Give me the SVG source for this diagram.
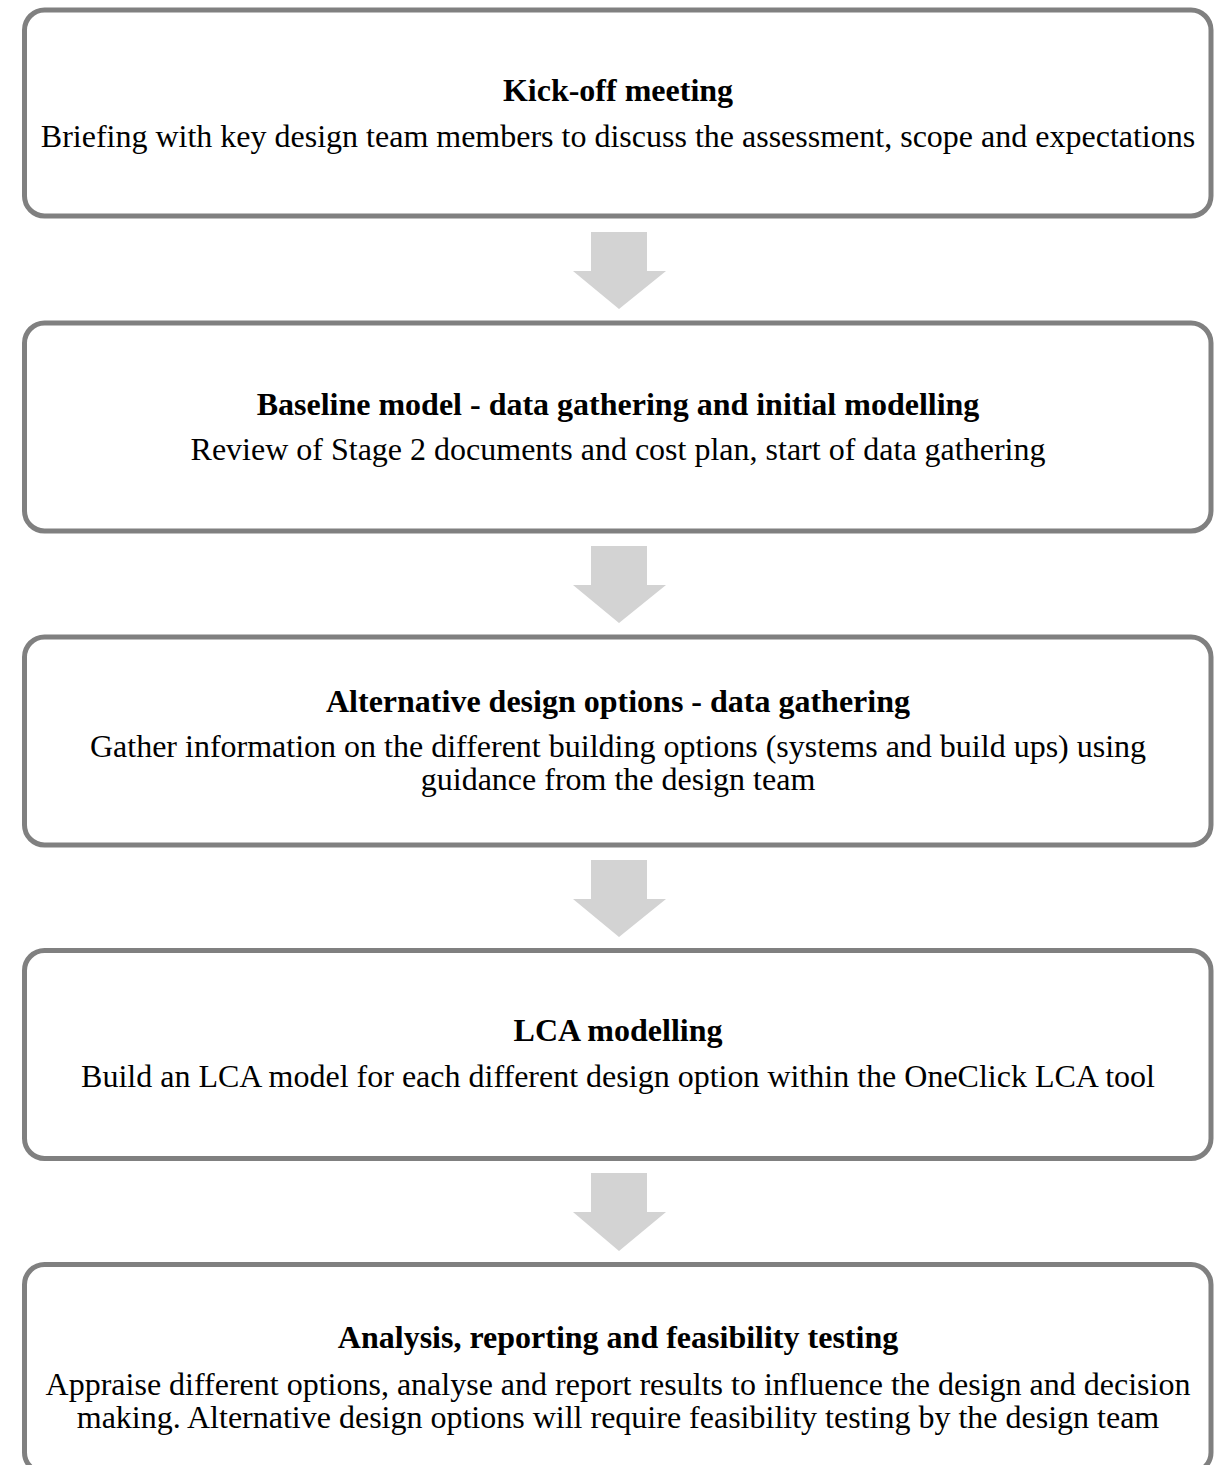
<svg xmlns="http://www.w3.org/2000/svg" width="1214" height="1465" viewBox="0 0 1214 1465">
<style>
.box{fill:#ffffff;stroke:#808080;stroke-width:5}
.arrow{fill:#d3d3d3;stroke:none}
.t{font-family:"Liberation Serif","Times New Roman",serif;font-size:32px;fill:#000;text-anchor:middle;font-weight:bold}
.b{font-family:"Liberation Serif","Times New Roman",serif;font-size:32px;fill:#000;text-anchor:middle}
</style>
<rect width="1214" height="1465" fill="#ffffff"/>
<g id="connectors">
<polygon class="arrow" points="591,232 647,232 647,271 666,271 619,309 573,271 591,271"/>
<polygon class="arrow" points="591,546 647,546 647,585 666,585 619,623 573,585 591,585"/>
<polygon class="arrow" points="591,860 647,860 647,899 666,899 619,937 573,899 591,899"/>
<polygon class="arrow" points="591,1173 647,1173 647,1212 666,1212 619,1251 573,1212 591,1212"/>
</g>
<g id="node1">
<rect class="box" x="24.5" y="10" width="1186.5" height="206" rx="20"/>
<text class="t" x="618" y="101">Kick-off meeting</text>
<text class="b" x="618" y="147">Briefing with key design team members to discuss the assessment, scope and expectations</text>
</g>
<g id="node2">
<rect class="box" x="24.5" y="323" width="1186.5" height="208" rx="20"/>
<text class="t" x="618" y="415">Baseline model - data gathering and initial modelling</text>
<text class="b" x="618" y="460">Review of Stage 2 documents and cost plan, start of data gathering</text>
</g>
<g id="node3">
<rect class="box" x="24.5" y="637" width="1186.5" height="208" rx="20"/>
<text class="t" x="618" y="712">Alternative design options - data gathering</text>
<text class="b" x="618" y="757">Gather information on the different building options (systems and build ups) using</text>
<text class="b" x="618" y="790">guidance from the design team</text>
</g>
<g id="node4">
<rect class="box" x="24.5" y="950.5" width="1186.5" height="208" rx="20"/>
<text class="t" x="618" y="1041">LCA modelling</text>
<text class="b" x="618" y="1087">Build an LCA model for each different design option within the OneClick LCA tool</text>
</g>
<g id="node5">
<rect class="box" x="24.5" y="1264.5" width="1186.5" height="208" rx="20"/>
<text class="t" x="618" y="1348">Analysis, reporting and feasibility testing</text>
<text class="b" x="618" y="1395">Appraise different options, analyse and report results to influence the design and decision</text>
<text class="b" x="618" y="1428">making. Alternative design options will require feasibility testing by the design team</text>
</g>
</svg>
